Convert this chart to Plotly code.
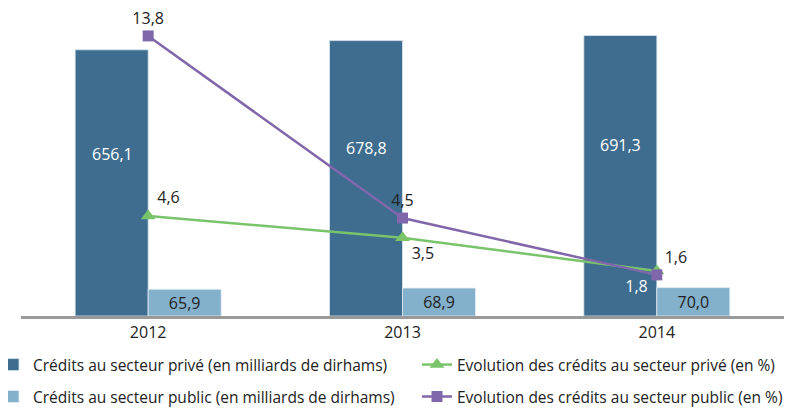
import plotly.graph_objects as go

years = ["2012", "2013", "2014"]
credits_prive = [656.1, 678.8, 691.3]
credits_public = [65.9, 68.9, 70.0]
evol_prive = [4.6, 3.5, 1.8]
evol_public = [13.8, 4.5, 1.6]

name_bar_prive = "Crédits au secteur privé (en milliards de dirhams)"
name_bar_public = "Crédits au secteur public (en milliards de dirhams)"
name_line_prive = "Evolution des crédits au secteur privé (en %)"
name_line_public = "Evolution des crédits au secteur public (en %)"

C_PRIVE = "#3e6d8f"
C_PUBLIC = "#83b0cb"
C_GREEN = "#79c46a"
C_PURPLE = "#8067ab"
FONT = "Open Sans"
FS = 16
FS_LEG = 15.5


def fr(v):
    return f"{v:.1f}".replace(".", ",")


fig = go.Figure()

fig.add_trace(go.Bar(
    x=years, y=credits_prive, name=name_bar_prive,
    marker=dict(color=C_PRIVE, line=dict(color="#d8e6f0", width=0.8)),
    legend="legend", hoverinfo="skip",
))
fig.add_trace(go.Scatter(
    x=years, y=evol_prive, name=name_line_prive, yaxis="y2",
    mode="lines+markers+text",
    line=dict(color=C_GREEN, width=2.5),
    marker=dict(symbol="triangle-up", size=13, color=C_GREEN),
    text=[fr(v) for v in evol_prive],
    textposition=["top right", "bottom right", "bottom left"],
    textfont=dict(family=FONT, size=FS, color=["#222222", "#222222", "#ffffff"]),
    legend="legend2", cliponaxis=False,
))
fig.add_trace(go.Bar(
    x=years, y=credits_public, name=name_bar_public,
    marker=dict(color=C_PUBLIC, line=dict(color="#e3eef5", width=0.8)),
    text=[fr(v) for v in credits_public],
    textposition="inside", insidetextanchor="middle", constraintext="none",
    textfont=dict(family=FONT, size=FS, color="#222222"),
    legend="legend3", hoverinfo="skip",
))
fig.add_trace(go.Scatter(
    x=years, y=evol_public, name=name_line_public, yaxis="y2",
    mode="lines+markers+text",
    line=dict(color=C_PURPLE, width=2.5),
    marker=dict(symbol="square", size=11, color=C_PURPLE),
    text=[fr(v) for v in evol_public],
    textposition=["top center", "top center", "top right"],
    textfont=dict(family=FONT, size=FS, color="#222222"),
    legend="legend4", cliponaxis=False,
))

annotations = []
for i, v in enumerate(credits_prive):
    annotations.append(dict(
        x=i, y=v * 0.61, xref="x", yref="y", xshift=-36, text=fr(v),
        showarrow=False, font=dict(family=FONT, size=FS, color="#ffffff"),
    ))

legend_common = dict(
    orientation="h", xanchor="left", yanchor="middle",
    font=dict(family=FONT, size=FS_LEG, color="#222222"),
    bgcolor="rgba(0,0,0,0)",
    itemclick=False, itemdoubleclick=False,
)

# page body has an 8px default margin: compensate in the figure margins
fig.update_layout(
    width=801, height=409,
    margin=dict(l=13, r=25, t=24, b=101, autoexpand=False),
    paper_bgcolor="white", plot_bgcolor="white",
    font=dict(family=FONT, size=FS, color="#222222"),
    barmode="group", bargap=0.426, bargroupgap=0,
    showlegend=True,
    legend=dict(x=-0.0367, y=-0.1725, **legend_common),
    legend2=dict(x=0.519, y=-0.1725, **legend_common),
    legend3=dict(x=-0.0367, y=-0.285, **legend_common),
    legend4=dict(x=0.519, y=-0.285, **legend_common),
    xaxis=dict(
        type="category", range=[-0.5, len(years) - 0.5], autorange=False,
        showline=True, linecolor="#9a9a9a", linewidth=3,
        showgrid=False, ticks="", tickfont=dict(family=FONT, size=FS, color="#222222"),
        zeroline=False,
    ),
    yaxis=dict(range=[0, 700], visible=False, showgrid=False, zeroline=False),
    yaxis2=dict(range=[-0.5, 14], overlaying="y", visible=False, showgrid=False, zeroline=False),
    annotations=annotations,
)

fig.write_html("out.html")
